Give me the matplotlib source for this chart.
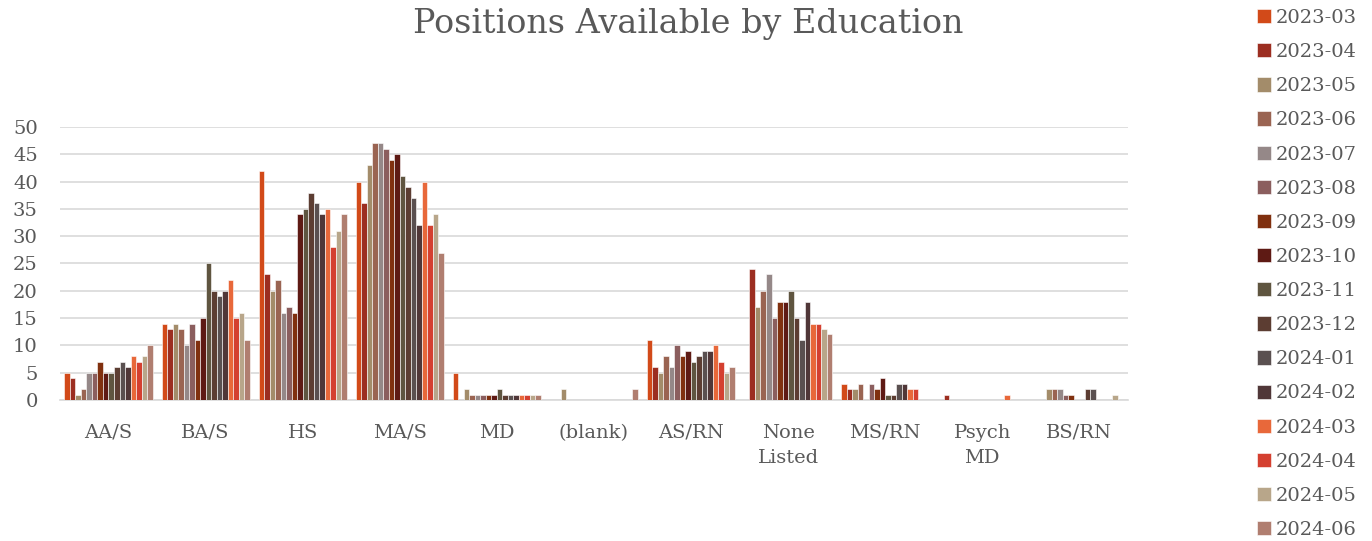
import matplotlib.pyplot as plt
import numpy as np

# Categories and series (months)
categories = ['AA/S', 'BA/S', 'HS', 'MA/S', 'MD', '(blank)', 'AS/RN',
              'None\nListed', 'MS/RN', 'Psych\nMD', 'BS/RN']
months = ['2023-03', '2023-04', '2023-05', '2023-06', '2023-07', '2023-08',
          '2023-09', '2023-10', '2023-11', '2023-12', '2024-01', '2024-02',
          '2024-03', '2024-04', '2024-05', '2024-06']

# values per category, one entry per month
aa_s = [5, 4, 1, 2, 5, 5, 7, 5, 5, 6, 7, 6, 8, 7, 8, 10]
ba_s = [14, 13, 14, 13, 10, 14, 11, 15, 25, 20, 19, 20, 22, 15, 16, 11]
hs = [42, 23, 20, 22, 16, 17, 16, 34, 35, 38, 36, 34, 35, 28, 31, 34]
ma_s = [40, 36, 43, 47, 47, 46, 44, 45, 41, 39, 37, 32, 40, 32, 34, 27]
md = [5, 0, 2, 1, 1, 1, 1, 1, 2, 1, 1, 1, 1, 1, 1, 1]
blank = [0, 0, 2, 0, 0, 0, 0, 0, 0, 0, 0, 0, 0, 0, 0, 2]
as_rn = [11, 6, 5, 8, 6, 10, 8, 9, 7, 8, 9, 9, 10, 7, 5, 6]
none_listed = [0, 24, 17, 20, 23, 15, 18, 18, 20, 15, 11, 18, 14, 14, 13, 12]
ms_rn = [3, 2, 2, 3, 0, 3, 2, 4, 1, 1, 3, 3, 2, 2, 0, 0]
psych_md = [0, 1, 0, 0, 0, 0, 0, 0, 0, 0, 0, 0, 1, 0, 0, 0]
bs_rn = [0, 0, 2, 2, 2, 1, 1, 0, 0, 2, 2, 0, 0, 0, 1, 0]

colors = ['#D24A19', '#9C2E21', '#A38C6A', '#9A6452', '#958888', '#8B5E5E',
          '#80300F', '#5E1A14', '#5F5540', '#5C3D32', '#5A5050', '#503738',
          '#E8683A', '#D44030', '#B8A68A', '#B07E70']

data = np.array([aa_s, ba_s, hs, ma_s, md, blank, as_rn, none_listed,
                 ms_rn, psych_md, bs_rn])

text_color = '#595959'
plt.rcParams['font.family'] = ['DejaVu Serif']

fig = plt.figure(figsize=(13.72, 5.41), dpi=100)
ax = fig.add_axes([0.0437, 0.2606, 0.7783, 0.5047])

x = np.arange(len(categories))
n = len(months)
slot = 0.0567
for j in range(n):
    offs = (j - (n - 1) / 2) * slot
    ax.bar(x + offs, data[:, j], width=slot, color=colors[j],
           edgecolor='white', linewidth=0.4, label=months[j], zorder=3)

ax.set_xlim(-0.5, len(categories) - 0.5)
ax.set_ylim(0, 50)
ax.set_yticks(range(0, 51, 5))
ax.set_xticks(x)
ax.set_xticklabels(categories, linespacing=1.55)
ax.tick_params(axis='both', length=0, colors=text_color, labelsize=14)
ax.tick_params(axis='x', pad=17)
ax.tick_params(axis='y', pad=16)
ax.grid(axis='y', color='#D9D9D9', linewidth=1.2, zorder=0)
for side in ['top', 'right', 'left']:
    ax.spines[side].set_visible(False)
ax.spines['bottom'].set_color('#D9D9D9')
ax.spines['bottom'].set_linewidth(1.2)

fig.text(0.5015, 0.955, 'Positions Available by Education', ha='center',
         va='center', fontsize=24, color=text_color)

leg = ax.legend(loc='upper left', bbox_to_anchor=(0.9075, 1.005),
                bbox_transform=fig.transFigure, frameon=False, fontsize=14,
                handlelength=0.75, handleheight=0.75, handletextpad=0.2,
                labelspacing=0.83, borderaxespad=0.2)
for t in leg.get_texts():
    t.set_color(text_color)

fig.savefig('out.png', dpi=100)
